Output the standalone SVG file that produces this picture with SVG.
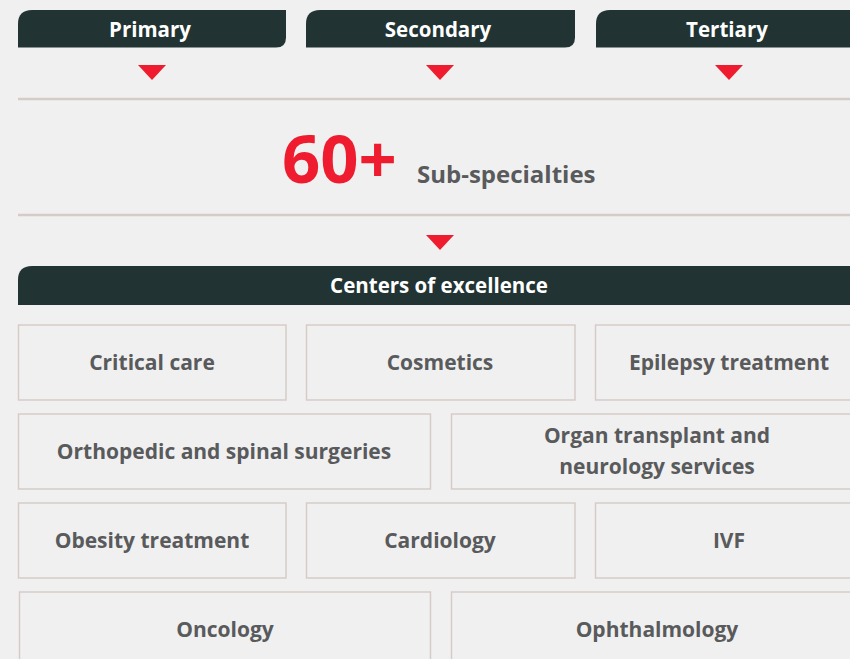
<svg xmlns="http://www.w3.org/2000/svg" width="850" height="659" viewBox="0 0 850 659">
<style>
.bg{fill:#f0f0f0}
.tab{fill:#223333}
.tabt{fill:#ffffff;font-family:"Open Sans","Liberation Sans",sans-serif;font-weight:700;font-size:20.5px;text-anchor:middle}
.tri{fill:#ee1c2e}
.rule{stroke:#d5ccc7;stroke-width:2.5;fill:none}
.box{fill:#f0f0f0;stroke:#d5ccc7;stroke-width:1.5}
.bt{fill:#595a5c;font-family:"Open Sans","Liberation Sans",sans-serif;font-weight:700;font-size:21px;text-anchor:middle}
</style>
<rect class="bg" x="0" y="0" width="850" height="659"/>
<g id="primary">
<path class="tab" d="M18,47.5 V24 Q18,10 32,10 H286 V37.5 Q286,47.5 276,47.5 Z"/>
<text class="tabt" x="150" y="36.5">Primary</text>
</g>
<g id="secondary">
<path class="tab" d="M306,47.5 V24 Q306,10 320,10 H575 V37.5 Q575,47.5 565,47.5 Z"/>
<text class="tabt" x="438" y="36.5">Secondary</text>
</g>
<g id="tertiary">
<path class="tab" d="M596,47.5 V24 Q596,10 610,10 H850 V47.5 Z"/>
<text class="tabt" x="727" y="36.5">Tertiary</text>
</g>
<g id="connectors">
<polygon class="tri" points="138,65 166,65 152,80"/>
<polygon class="tri" points="426,65 454,65 440,80"/>
<polygon class="tri" points="715,65 743,65 729,80"/>
<line class="rule" x1="18" y1="99" x2="850" y2="99"/>
<line class="rule" x1="18" y1="215" x2="850" y2="215"/>
<polygon class="tri" points="426,235 454,235 440,250"/>
</g>
<g id="subspecialties">
<text x="282" y="183" style="fill:#ee1c2e;font-family:'Open Sans','Liberation Sans',sans-serif;font-weight:700;font-size:67px">60+</text>
<text x="417" y="183" style="fill:#595a5c;font-family:'Open Sans','Liberation Sans',sans-serif;font-weight:700;font-size:24px">Sub-specialties</text>
</g>
<g id="centers">
<path class="tab" d="M18,305 V280 Q18,266 32,266 H850 V305 Z"/>
<text class="tabt" x="439" y="293">Centers of excellence</text>
</g>
<g id="critical-care"><rect class="box" x="18.5" y="325" width="267.5" height="75"/><text class="bt" x="152" y="370">Critical care</text></g>
<g id="cosmetics"><rect class="box" x="306.5" y="325" width="268.5" height="75"/><text class="bt" x="440" y="370">Cosmetics</text></g>
<g id="epilepsy"><rect class="box" x="595.5" y="325" width="260" height="75"/><text class="bt" x="729" y="370">Epilepsy treatment</text></g>
<g id="orthopedic"><rect class="box" x="18.5" y="414" width="412" height="75"/><text class="bt" x="224" y="459">Orthopedic and spinal surgeries</text></g>
<g id="organ"><rect class="box" x="451.5" y="414" width="404" height="75"/><text class="bt" x="657" y="443">Organ transplant and</text><text class="bt" x="657" y="474">neurology services</text></g>
<g id="obesity"><rect class="box" x="18.5" y="503" width="267.5" height="75"/><text class="bt" x="152" y="548">Obesity treatment</text></g>
<g id="cardiology"><rect class="box" x="306.5" y="503" width="268.5" height="75"/><text class="bt" x="440" y="548">Cardiology</text></g>
<g id="ivf"><rect class="box" x="595.5" y="503" width="260" height="75"/><text class="bt" x="729" y="548">IVF</text></g>
<g id="oncology"><rect class="box" x="19.5" y="592" width="411" height="75"/><text class="bt" x="225" y="637">Oncology</text></g>
<g id="ophthalmology"><rect class="box" x="451.5" y="592" width="404" height="75"/><text class="bt" x="657" y="637">Ophthalmology</text></g>
</svg>
